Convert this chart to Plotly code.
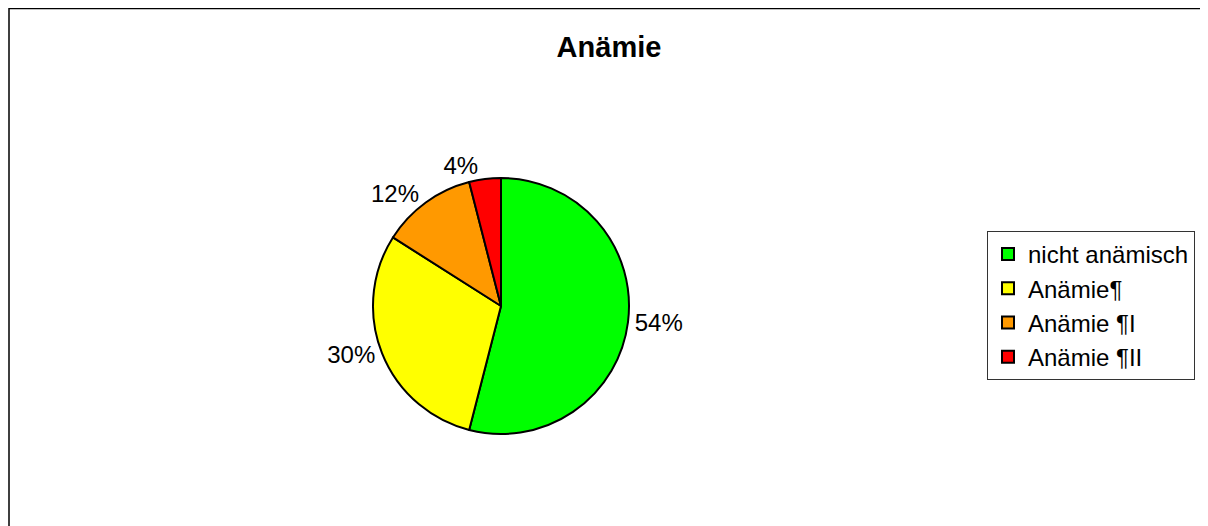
import plotly.graph_objects as go

labels = ["nicht anämisch", "Anämie¶", "Anämie ¶I", "Anämie ¶II"]
values = [54, 30, 12, 4]
colors = ["#00FF00", "#FFFF00", "#FF9900", "#FF0000"]

W, H = 1200, 518
OFF = 8  # page body margin
cx, cy, r = 501 - OFF, 306 - OFF, 128

fig = go.Figure(go.Pie(
    labels=labels,
    values=values,
    sort=False,
    direction="clockwise",
    rotation=0,
    marker=dict(colors=colors, line=dict(color="black", width=2)),
    textinfo="percent",
    texttemplate="%{percent:.0%}",
    textposition="outside",
    outsidetextfont=dict(family="Liberation Sans, Arial", size=24, color="black"),
    domain=dict(x=[(cx - r) / W, (cx + r) / W], y=[1 - (cy + r) / H, 1 - (cy - r) / H]),
    showlegend=True,
    hoverinfo="label+percent",
))

fig.update_layout(
    width=W, height=H,
    margin=dict(l=0, r=0, t=0, b=0),
    paper_bgcolor="white",
    plot_bgcolor="white",
    font=dict(family="Liberation Sans, Arial", color="black"),
    title=dict(text="<b>Anämie</b>", x=(609 - OFF) / W, xanchor="center", y=1 - (47 - OFF) / H, yanchor="middle",
               font=dict(size=29, family="Liberation Sans, Arial", color="black")),
    legend=dict(
        x=(987 - OFF) / W, xanchor="left", y=1 - (231 - OFF) / H, yanchor="top",
        bordercolor="#333333", borderwidth=1, bgcolor="white",
        font=dict(size=24, family="Liberation Sans, Arial", color="black"),
        itemwidth=30,
    ),
    shapes=[dict(type="rect", xref="paper", yref="paper",
                 x0=1 / W, x1=1.02, y0=-0.02, y1=1 - 0.5 / H,
                 line=dict(color="black", width=1.5), fillcolor="rgba(0,0,0,0)", layer="below")],
)

fig.write_html("out.html")
